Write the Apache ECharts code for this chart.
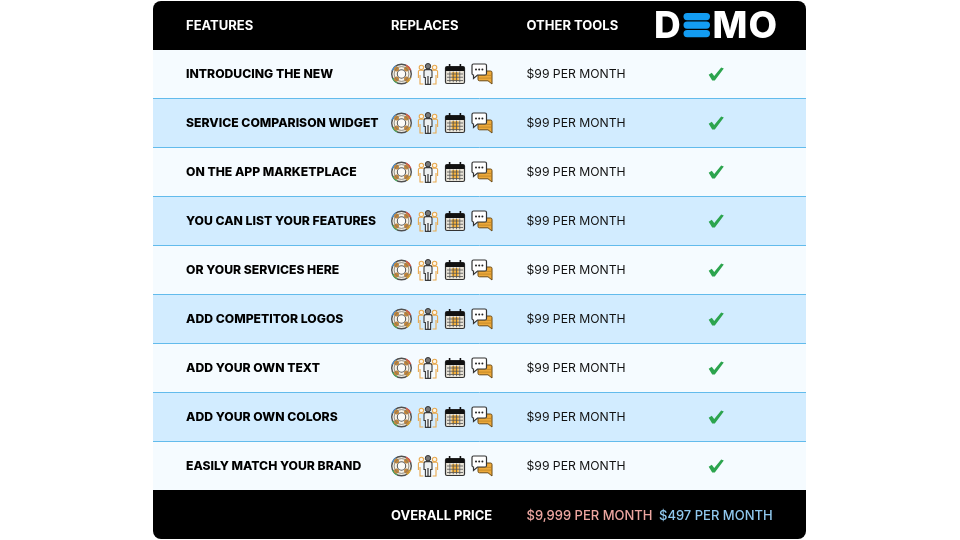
<!DOCTYPE html>
<html>
<head>
<meta charset="utf-8">
<title>Comparison table</title>
<script src="https://cdn.jsdelivr.net/npm/echarts@6/dist/echarts.min.js"></script>
<style>
  html, body { margin: 0; padding: 0; background: #fff; }
  #main { width: 960px; height: 540px; }
</style>
</head>
<body>
<div id="main"></div>
<script>
  var headers = ['FEATURES', 'REPLACES', 'OTHER TOOLS'];
  var features = [
    'INTRODUCING THE NEW',
    'SERVICE COMPARISON WIDGET',
    'ON THE APP MARKETPLACE',
    'YOU CAN LIST YOUR FEATURES',
    'OR YOUR SERVICES HERE',
    'ADD COMPETITOR LOGOS',
    'ADD YOUR OWN TEXT',
    'ADD YOUR OWN COLORS',
    'EASILY MATCH YOUR BRAND'
  ];
  var otherPrices = ['$99 PER MONTH', '$99 PER MONTH', '$99 PER MONTH', '$99 PER MONTH', '$99 PER MONTH',
    '$99 PER MONTH', '$99 PER MONTH', '$99 PER MONTH', '$99 PER MONTH'];
  var demoHas = [true, true, true, true, true, true, true, true, true];
  var totalLabel = 'OVERALL PRICE';
  var totalOther = '$9,999 PER MONTH';
  var totalDemo = '$497 PER MONTH';

  var FONT = 'Inter, "Noto Sans", sans-serif';
  var WIDTH = 653;
  var colFeature = 33, colReplace = 238, colOther = 373.5, colDemoText = 506, colCheck = 563;
  var rowNames = ['head'].concat(features, ['foot']);

  function lifebuoy() {
    var kids = [
      { type: 'circle', shape: { cx: 0, cy: 0, r: 9.8 }, style: { fill: '#f7f3e8', stroke: '#4f4f4f', lineWidth: 1.4 } },
      { type: 'arc', shape: { cx: 0, cy: 0, r: 9.9, startAngle: -1.1, endAngle: -0.4 }, style: { fill: null, stroke: '#d9534a', lineWidth: 1.3 } },
      { type: 'arc', shape: { cx: 0, cy: 0, r: 9.9, startAngle: 0.4, endAngle: 1.0 }, style: { fill: null, stroke: '#e0b030', lineWidth: 1.3 } },
      { type: 'arc', shape: { cx: 0, cy: 0, r: 9.9, startAngle: 2.0, endAngle: 2.7 }, style: { fill: null, stroke: '#4aa860', lineWidth: 1.3 } },
      { type: 'arc', shape: { cx: 0, cy: 0, r: 9.9, startAngle: 3.5, endAngle: 4.1 }, style: { fill: null, stroke: '#4a8fd0', lineWidth: 1.3 } }
    ];
    [[-5, -5], [5, -5], [-5, 5], [5, 5]].forEach(function (p) {
      kids.push({ type: 'circle', shape: { cx: p[0], cy: p[1], r: 2.5 }, style: { fill: '#c4873a' } });
    });
    kids.push({ type: 'circle', shape: { cx: 0, cy: 0, r: 7.4 }, style: { fill: null, stroke: '#77726a', lineWidth: 0.8 } });
    kids.push({ type: 'circle', shape: { cx: 0, cy: 0, r: 4.2 }, style: { fill: '#fbfbf8', stroke: '#5c5c5c', lineWidth: 1.1 } });
    return kids;
  }

  function sidePerson(dx, out) {
    return [
      { type: 'circle', shape: { cx: dx, cy: -6.6, r: 2.2 }, style: { fill: '#fdf6e8', stroke: '#e8a94f', lineWidth: 1.1 } },
      { type: 'path', shape: { pathData: 'M' + (dx + out * 3) + ' 4V-2.6Q' + (dx + out * 3) + ' -3.8 ' + (dx + out * 1.5) + ' -3.8H' + (dx - out * 3) + 'M' + (dx + out * 1.4) + ' 1V10H' + (dx - out * 2) }, style: { fill: null, stroke: '#e8a94f', lineWidth: 1.1 } }
    ];
  }

  function people() {
    return sidePerson(-6.6, -1).concat(sidePerson(6.6, 1), [
      { type: 'circle', shape: { cx: 0, cy: -7.8, r: 2.7 }, style: { fill: '#777', stroke: '#333', lineWidth: 1 } },
      { type: 'path', shape: { pathData: 'M-4 3.5V-2.6Q-4 -4.4 -2 -4.4H2Q4 -4.4 4 -2.6V3.5H2.6V10.4H-2.6V3.5Z' }, style: { fill: '#eef1f2', stroke: '#3a3a3a', lineWidth: 1.1 } },
      { type: 'path', shape: { pathData: 'M0 2V10.4' }, style: { stroke: '#333', lineWidth: 1.2 } }
    ]);
  }

  function calendar() {
    var kids = [
      { type: 'rect', shape: { x: -9.5, y: -7.5, width: 19, height: 17, r: 1.5 }, style: { fill: '#e9e4d8', stroke: '#333', lineWidth: 1.2 } },
      { type: 'rect', shape: { x: -9.5, y: -7.5, width: 19, height: 4.6, r: [1.5, 1.5, 0, 0] }, style: { fill: '#111' } },
      { type: 'rect', shape: { x: -6.2, y: -10, width: 1.6, height: 4.5 }, style: { fill: '#111' } },
      { type: 'rect', shape: { x: 4.6, y: -10, width: 1.6, height: 4.5 }, style: { fill: '#111' } },
      { type: 'rect', shape: { x: -3.4, y: -1.8, width: 7, height: 8.6 }, style: { fill: '#f7b23b' } }
    ];
    [-5.5, -2.2, 1.1, 4.4].forEach(function (x) {
      kids.push({ type: 'rect', shape: { x: x, y: -2.4, width: 0.8, height: 10.6 }, style: { fill: '#555' } });
    });
    [-0.4, 2.8, 6].forEach(function (y) {
      kids.push({ type: 'rect', shape: { x: -8, y: y, width: 16, height: 0.8 }, style: { fill: '#555' } });
    });
    return kids;
  }

  function chat() {
    return [
      { type: 'path', shape: { pathData: 'M-4 -3H8.5Q10 -3 10 -1.5V10L6 6.8H-2.5Q-4 6.8 -4 5.3Z' }, style: { fill: '#eda93a', stroke: '#6b4a16', lineWidth: 1 } },
      { type: 'path', shape: { pathData: 'M-4 1.4H10M-4 4.1H10' }, style: { stroke: '#b67e24', lineWidth: 0.7 } },
      { type: 'path', shape: { pathData: 'M-8.5 -10H3Q4.5 -10 4.5 -8.5V-0.5Q4.5 1 3 1H-4.5L-8.5 4.5V1Q-10 1 -10 -0.5V-8.5Q-10 -10 -8.5 -10Z' }, style: { fill: '#fff', stroke: '#333', lineWidth: 1.2 } },
      { type: 'circle', shape: { cx: -6, cy: -4.6, r: 1 }, style: { fill: '#222' } },
      { type: 'circle', shape: { cx: -2.8, cy: -4.6, r: 1 }, style: { fill: '#222' } },
      { type: 'circle', shape: { cx: 0.4, cy: -4.6, r: 1 }, style: { fill: '#222' } }
    ];
  }

  var iconSet = [[401.5, lifebuoy], [428, people], [455, calendar], [482, chat]];

  function rowBand(params, api) {
    var i = api.value(0);
    var c = api.coord([0, i]);
    var h = api.size([0, 1])[1];
    var top = c[1] - h / 2;
    var isEnd = i === 0 || i === rowNames.length - 1;
    var r = i === 0 ? [8, 8, 0, 0] : (i === rowNames.length - 1 ? [0, 0, 8, 8] : 0);
    // the footer sits one pixel higher, it overlaps the last row
    var y = i === rowNames.length - 1 ? top - 1 : top;
    var kids = [{
      type: 'rect',
      shape: { x: c[0], y: y, width: WIDTH, height: h, r: r },
      style: { fill: isEnd ? '#000' : (i % 2 === 0 ? '#d2ecff' : '#f5fbff') }
    }];
    if (!isEnd && i < rowNames.length - 2) {
      kids.push({
        type: 'line',
        shape: { x1: c[0], y1: top + h - 0.5, x2: c[0] + WIDTH, y2: top + h - 0.5 },
        style: { stroke: '#62bbec', lineWidth: 1 }
      });
    }
    return { type: 'group', children: kids };
  }

  function textRow(params, api) {
    var row = api.value(1);
    var c = api.coord([api.value(0), row]);
    var o = textCells[params.dataIndex];
    var nudge = (row === 0 || row === rowNames.length - 1) ? 1 : 0;
    return {
      type: 'text',
      style: {
        x: c[0], y: c[1] + nudge, text: o.text, fill: o.fill, font: o.font,
        textAlign: 'left', verticalAlign: 'middle'
      }
    };
  }

  var textCells = [];
  function addCell(col, row, text, fill, font) {
    textCells.push({ value: [col, row], text: text, fill: fill, font: font });
  }
  var bold = '700 13px ' + FONT, rowBold = '800 12.2px ' + FONT, plain = '400 12.2px ' + FONT;
  addCell(colFeature, 0, headers[0], '#fff', bold);
  addCell(colReplace, 0, headers[1], '#fff', bold);
  addCell(colOther, 0, headers[2], '#fff', bold);
  features.forEach(function (f, i) {
    addCell(colFeature, i + 1, f, '#000', rowBold);
    addCell(colOther, i + 1, otherPrices[i], '#111', plain);
  });
  addCell(colReplace, 10, totalLabel, '#fff', bold);
  addCell(colOther, 10, totalOther, '#eca6a0', '500 13px ' + FONT);
  addCell(colDemoText, 10, totalDemo, '#90c8ee', '500 13px ' + FONT);

  function iconRow(params, api) {
    var c = api.coord([0, api.value(0)]);
    return {
      type: 'group',
      children: iconSet.map(function (s) {
        return { type: 'group', x: s[0], y: c[1] - 0.5, children: s[1]() };
      })
    };
  }

  function checkRow(params, api) {
    var c = api.coord([colCheck, api.value(0)]);
    return {
      type: 'path',
      x: c[0] + 0.2,
      y: c[1] - 0.5,
      shape: { pathData: 'M-7.5 0.8L-4.4 -1.2L-2 2L5 -6.6L7.6 -5.6L-1.4 6.6H-4Z' },
      style: { fill: '#2ca44e' }
    };
  }

  function logo(params, api) {
    var c = api.coord([0, 0]);
    var y = c[1] + 1;
    var logoFont = '800 37px ' + FONT;
    var kids = [
      { type: 'text', style: { x: 654, y: y + 0.5, text: 'D', fill: '#fff', font: logoFont, textAlign: 'left', verticalAlign: 'middle' } },
      { type: 'text', style: { x: 712.5, y: y + 0.5, text: 'M', fill: '#fff', font: logoFont, textAlign: 'left', verticalAlign: 'middle' } },
      { type: 'text', style: { x: 748.5, y: y + 0.5, text: 'O', fill: '#fff', font: logoFont, textAlign: 'left', verticalAlign: 'middle' } }
    ];
    [-13.5, -5, 3.5].forEach(function (dy) {
      kids.push({ type: 'rect', shape: { x: 683.5, y: y + dy, width: 26.5, height: 7.2, r: 3.6 }, style: { fill: '#139cf2' } });
    });
    return { type: 'group', children: kids };
  }

  var myChart = echarts.init(document.getElementById('main'), null, { renderer: 'canvas' });
  myChart.setOption({
    animation: false,
    backgroundColor: '#fff',
    grid: { left: 153, top: 1, width: WIDTH, height: 539 },
    xAxis: { type: 'value', min: 0, max: WIDTH, show: false },
    yAxis: { type: 'category', inverse: true, data: rowNames, show: false },
    series: [
      { type: 'custom', silent: true, clip: false, renderItem: rowBand,
        data: rowNames.map(function (n, i) { return [i]; }), encode: { y: 0 } },
      { type: 'custom', silent: true, clip: false, renderItem: textRow,
        data: textCells.map(function (c) { return c.value; }), encode: { x: 0, y: 1 } },
      { type: 'custom', silent: true, clip: false, renderItem: iconRow,
        data: features.map(function (f, i) { return [i + 1]; }), encode: { y: 0 } },
      { type: 'custom', silent: true, clip: false, renderItem: checkRow,
        data: demoHas.map(function (v, i) { return v ? [i + 1] : null; }).filter(Boolean), encode: { y: 0 } },
      { type: 'custom', silent: true, clip: false, renderItem: logo, data: [[0]], encode: { y: 0 } }
    ]
  });
</script>
</body>
</html>
